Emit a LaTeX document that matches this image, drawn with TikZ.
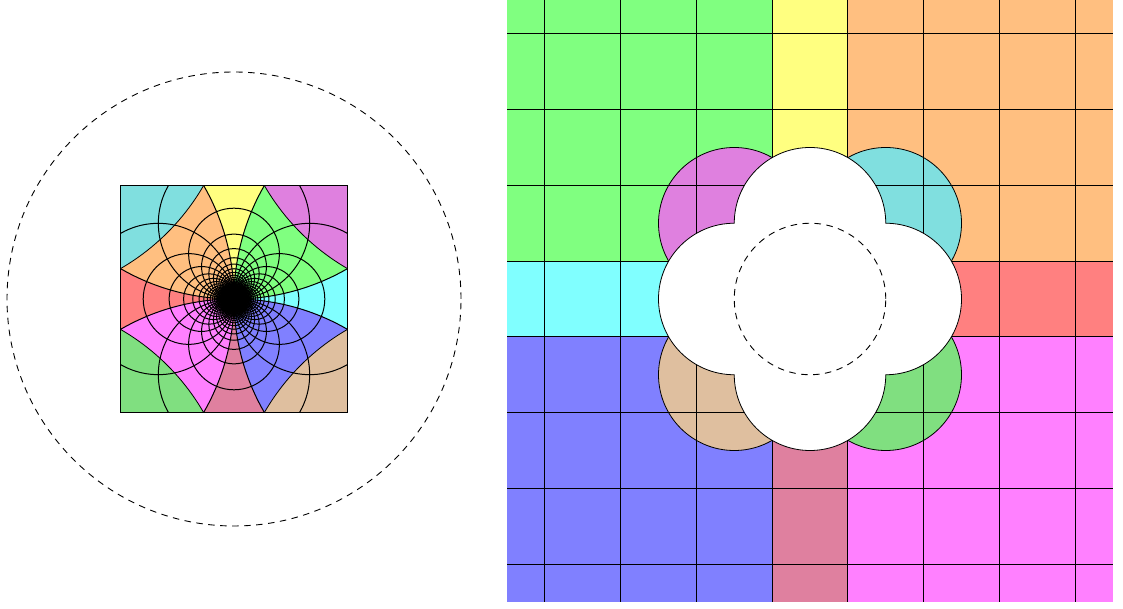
\documentclass[tikz,border=0pt]{standalone}
\definecolor{cGreen}{RGB}{128,255,128}
\definecolor{cYellow}{RGB}{255,255,128}
\definecolor{cOrange}{RGB}{255,191,128}
\definecolor{cCyan}{RGB}{128,255,255}
\definecolor{cRed}{RGB}{255,128,128}
\definecolor{cBlue}{RGB}{128,128,255}
\definecolor{cMauve}{RGB}{223,128,159}
\definecolor{cMagenta}{RGB}{255,128,255}
\definecolor{kMag}{RGB}{223,128,223}
\definecolor{kCyan}{RGB}{128,223,223}
\definecolor{kTan}{RGB}{223,191,159}
\definecolor{kGreen}{RGB}{128,223,128}
\begin{document}
\begin{tikzpicture}[x=1pt,y=1pt,
  gridline/.style={line width=1pt,black},
  rim/.style={line width=0.8pt,black},
  dashline/.style={line width=0.9pt,black,dash pattern=on 6.5pt off 5.5pt}]
\useasboundingbox (0,0) rectangle (1123,609);
% ---------- left picture (inverted) ----------
\begin{scope}[shift={(234,310)}, x=227pt, y=227pt]
  \begin{scope}
    \clip (-0.5,-0.5) rectangle (0.5,0.5);
    \fill[cRed] (-1,0) circle (1);
    \fill[cCyan] (1,0) circle (1);
    \fill[cYellow] (0,1) circle (1);
    \fill[cMauve] (0,-1) circle (1);
    \begin{scope}
      \clip (-1,0) circle (1);
      \fill[cOrange] (0,1) circle (1);
      \fill[cMagenta] (0,-1) circle (1);
    \end{scope}
    \begin{scope}
      \clip (1,0) circle (1);
      \fill[cGreen] (0,1) circle (1);
      \fill[cBlue] (0,-1) circle (1);
    \end{scope}
    \fill[kMag] (1,1) circle (1);
    \fill[kCyan] (-1,1) circle (1);
    \fill[kTan] (1,-1) circle (1);
    \fill[kGreen] (-1,-1) circle (1);
    \foreach \k in {0,...,39} {
      \pgfmathsetmacro\rr{1/(2*\k+1)}
      \draw[gridline] (\rr,0) circle (\rr) (-\rr,0) circle (\rr)
                      (0,\rr) circle (\rr) (0,-\rr) circle (\rr);
    }
    \draw[rim] (1,1) circle (1) (-1,1) circle (1) (1,-1) circle (1) (-1,-1) circle (1);
  \end{scope}
  \draw[gridline] (-0.5,-0.5) rectangle (0.5,0.5);
  \draw[dashline] (0,0) circle (1);
\end{scope}
% ---------- right picture (grid) ----------
\begin{scope}[shift={(810,310)}, x=75.75pt, y=75.75pt]
  \begin{scope}
    \clip (-4,-4) rectangle (4,4);
    \fill[cGreen]   (-4,0.5) rectangle (-0.5,4);
    \fill[cYellow]  (-0.5,0.5) rectangle (0.5,4);
    \fill[cOrange]  (0.5,0.5) rectangle (4,4);
    \fill[cCyan]    (-4,-0.5) rectangle (-0.5,0.5);
    \fill[cRed]     (0.5,-0.5) rectangle (4,0.5);
    \fill[cBlue]    (-4,-4) rectangle (-0.5,-0.5);
    \fill[cMauve]   (-0.5,-4) rectangle (0.5,-0.5);
    \fill[cMagenta] (0.5,-4) rectangle (4,-0.5);
    \filldraw[rim,fill=kMag]   (-1,1) circle (1);
    \filldraw[rim,fill=kCyan]  (1,1) circle (1);
    \filldraw[rim,fill=kTan]   (-1,-1) circle (1);
    \filldraw[rim,fill=kGreen] (1,-1) circle (1);
    \foreach \v in {0.5,1.5,2.5,3.5} {
      \draw[gridline] (\v,-4) -- (\v,4) (-\v,-4) -- (-\v,4)
                      (-4,\v) -- (4,\v) (-4,-\v) -- (4,-\v);
    }
  \end{scope}
  \filldraw[rim,fill=white] (1,-1)
    arc[start angle=-90,end angle=90,radius=1]
    arc[start angle=0,end angle=180,radius=1]
    arc[start angle=90,end angle=270,radius=1]
    arc[start angle=180,end angle=360,radius=1] -- cycle;
  \draw[dashline] (0,0) circle (1);
\end{scope}
\end{tikzpicture}
\end{document}
